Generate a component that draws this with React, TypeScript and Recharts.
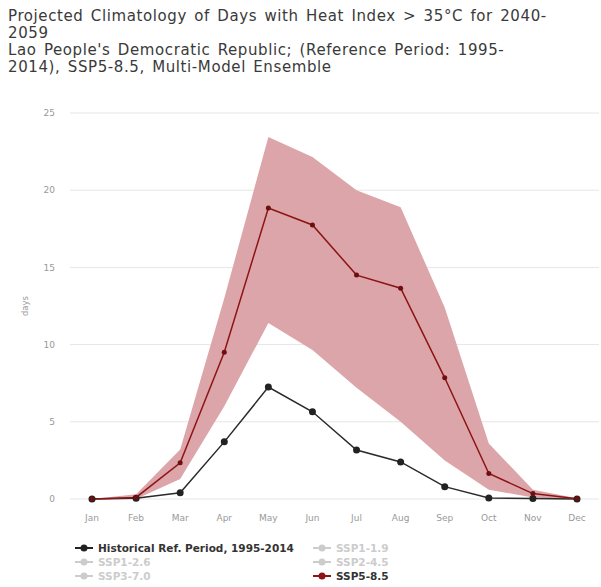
import React from "react";
import {
  Area,
  CartesianGrid,
  ComposedChart,
  Line,
  XAxis,
  YAxis,
} from "recharts";

const TITLE_LINES = [
  "Projected Climatology of Days with Heat Index > 35°C for 2040-",
  "2059",
  "Lao People's Democratic Republic; (Reference Period: 1995-",
  "2014), SSP5-8.5, Multi-Model Ensemble",
];

const MONTHS = ["Jan", "Feb", "Mar", "Apr", "May", "Jun", "Jul", "Aug", "Sep", "Oct", "Nov", "Dec"];

// historical reference 1995-2014
const HISTORICAL = [0, 0.05, 0.4, 3.7, 7.25, 5.65, 3.17, 2.4, 0.8, 0.07, 0.03, 0];

// SSP5-8.5 median + model range
const SSP585 = [0, 0.1, 2.35, 9.5, 18.85, 17.75, 14.5, 13.65, 7.85, 1.65, 0.35, 0.02];
const SSP585_LOW = [0, 0, 1.3, 6.0, 11.4, 9.65, 7.2, 5.0, 2.5, 0.6, 0.1, 0];
const SSP585_HIGH = [0, 0.3, 3.2, 13.0, 23.45, 22.15, 20.0, 18.9, 12.4, 3.6, 0.6, 0.05];

const Y_TICKS = [0, 5, 10, 15, 20, 25];

const LEGEND_ITEMS = [
  { name: "Historical Ref. Period, 1995-2014", color: "#222", active: true },
  { name: "SSP1-1.9", color: "#ccc", active: false },
  { name: "SSP1-2.6", color: "#ccc", active: false },
  { name: "SSP2-4.5", color: "#ccc", active: false },
  { name: "SSP3-7.0", color: "#ccc", active: false },
  { name: "SSP5-8.5", color: "#8e1414", active: true },
];

const FONT = "'DejaVu Sans', Verdana, sans-serif";

const chartData = MONTHS.map((month, i) => ({
  month,
  historical: HISTORICAL[i],
  ssp585: SSP585[i],
  range: [SSP585_LOW[i], SSP585_HIGH[i]],
}));

function LegendBlock() {
  return (
    <div
      style={{
        position: "absolute",
        left: 75,
        top: 541,
        width: 480,
        display: "grid",
        gridTemplateColumns: "238px 238px",
        fontFamily: FONT,
        fontSize: 10.5,
        fontWeight: 700,
      }}
    >
      {LEGEND_ITEMS.map((item) => (
        <div
          key={item.name}
          style={{ display: "flex", alignItems: "center", height: 14, color: item.active ? "#333" : "#ccc" }}
        >
          <svg width={20} height={10} style={{ marginRight: 3 }}>
            <line x1={0} y1={5} x2={18} y2={5} stroke={item.color} strokeWidth={2} />
            <circle cx={9} cy={5} r={3.5} fill={item.color} />
          </svg>
          <span style={{ whiteSpace: "nowrap" }}>{item.name}</span>
        </div>
      ))}
    </div>
  );
}

export default function App() {
  return (
    <div
      style={{
        position: "absolute",
        left: 0,
        top: 0,
        width: 601,
        height: 587,
        background: "#fff",
        overflow: "hidden",
      }}
    >
      <div
        style={{
          position: "absolute",
          left: 8,
          top: 8,
          fontFamily: FONT,
          fontSize: 15,
          letterSpacing: 0.6,
          wordSpacing: 2,
          lineHeight: "17px",
          color: "#3a3a3a",
        }}
      >
        {TITLE_LINES.map((line) => (
          <div key={line} style={{ whiteSpace: "nowrap" }}>
            {line}
          </div>
        ))}
      </div>

      <div style={{ position: "absolute", left: 0, top: 0 }}>
        <ComposedChart
          width={601}
          height={587}
          data={chartData}
          margin={{ top: 113, right: 2, bottom: 58, left: 30 }}
        >
          <CartesianGrid vertical={false} stroke="#e6e6e6" />
          <XAxis
            dataKey="month"
            height={30}
            padding={{ left: 22, right: 22 }}
            axisLine={false}
            tickLine={false}
            tickMargin={10}
            tick={{ fontSize: 9, fill: "#999", fontFamily: FONT }}
          />
          <YAxis
            width={40}
            domain={[0, 25]}
            ticks={Y_TICKS}
            axisLine={false}
            tickLine={false}
            tickMargin={9}
            tick={{ fontSize: 9, fill: "#999", fontFamily: FONT }}
            label={{
              value: "days",
              angle: -90,
              position: "insideLeft",
              dx: -10,
              style: { fontSize: 8.5, fill: "#999", fontFamily: FONT, textAnchor: "middle" },
            }}
          />
          <Area
            type="linear"
            dataKey="range"
            stroke="none"
            fill="#dca5a9"
            fillOpacity={1}
            isAnimationActive={false}
            activeDot={false}
          />
          <Line
            type="linear"
            dataKey="historical"
            stroke="#2a2a2a"
            strokeWidth={1.5}
            dot={{ r: 3.5, fill: "#222", stroke: "#222", strokeWidth: 0 }}
            isAnimationActive={false}
          />
          <Line
            type="linear"
            dataKey="ssp585"
            stroke="#8e1414"
            strokeWidth={1.5}
            dot={{ r: 2.5, fill: "#6e0f0f", stroke: "#6e0f0f", strokeWidth: 0 }}
            isAnimationActive={false}
          />
        </ComposedChart>
      </div>

      <LegendBlock />
    </div>
  );
}
